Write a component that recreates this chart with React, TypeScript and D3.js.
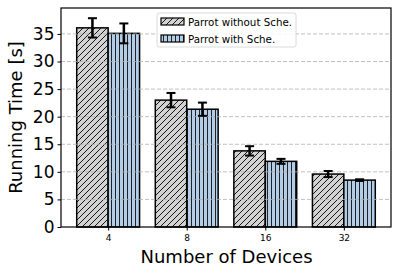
import { useEffect, useRef } from "react";
import * as d3 from "d3";

const categories = ["4", "8", "16", "32"];
const withoutSche = [36.1, 23.0, 13.8, 9.6];
const withoutErr = [1.75, 1.3, 0.85, 0.55];
const withSche = [35.1, 21.35, 11.9, 8.5];
const withErr = [1.8, 1.2, 0.45, 0.15];
const yTicks = [0, 5, 10, 15, 20, 25, 30, 35];
const seriesNames = ["Parrot without Sche.", "Parrot with Sche."];

const App = () => {
  const svgRef = useRef<SVGSVGElement>(null);

  useEffect(() => {
    const svg = d3.select(svgRef.current);
    svg.selectAll("*").remove();

    const width = 399;
    const height = 275;
    const margin = { top: 8, right: 8, bottom: 48, left: 61 };
    const w = width - margin.left - margin.right;
    const h = height - margin.top - margin.bottom;

    svg.attr("width", width).attr("height", height);

    const defs = svg.append("defs");
    const diag = defs
      .append("pattern")
      .attr("id", "hatch-diag")
      .attr("patternUnits", "userSpaceOnUse")
      .attr("width", 6)
      .attr("height", 6);
    diag.append("rect").attr("width", 6).attr("height", 6).attr("fill", "#d3d3d3");
    diag
      .append("path")
      .attr("d", "M0,6 L6,0 M-1.5,1.5 L1.5,-1.5 M4.5,7.5 L7.5,4.5")
      .attr("stroke", "#000")
      .attr("stroke-width", 0.9);

    const vert = defs
      .append("pattern")
      .attr("id", "hatch-vert")
      .attr("patternUnits", "userSpaceOnUse")
      .attr("width", 4)
      .attr("height", 4);
    vert.append("rect").attr("width", 4).attr("height", 4).attr("fill", "#b3cde8");
    vert.append("rect").attr("x", 2).attr("width", 1).attr("height", 4).attr("fill", "#222");

    const chart = svg.append("g").attr("transform", `translate(${margin.left},${margin.top})`);

    const x = d3.scaleLinear().domain([-0.6, 3.6]).range([0, w]);
    const y = d3.scaleLinear().domain([0, 39.7]).range([h, 0]);
    const bw = x(0.4) - x(0);

    const series = [
      { vals: withoutSche, errs: withoutErr, fill: "url(#hatch-diag)", off: -1 },
      { vals: withSche, errs: withErr, fill: "url(#hatch-vert)", off: 0 },
    ];

    series.forEach((s) => {
      chart
        .selectAll(null)
        .data(s.vals)
        .enter()
        .append("rect")
        .attr("x", (_, i) => x(i) + s.off * bw)
        .attr("y", (d) => y(d))
        .attr("width", bw)
        .attr("height", (d) => h - y(d))
        .attr("fill", s.fill)
        .attr("stroke", "#000")
        .attr("stroke-width", 1.5);
    });

    // grid on top of bars
    chart
      .selectAll(null)
      .data(yTicks.filter((t) => t > 0))
      .enter()
      .append("line")
      .attr("x1", 0)
      .attr("x2", w)
      .attr("y1", (d) => y(d))
      .attr("y2", (d) => y(d))
      .attr("stroke", "#b0b0b0")
      .attr("stroke-width", 0.8)
      .attr("stroke-dasharray", "4,2");

    // error bars
    series.forEach((s) => {
      s.vals.forEach((v, i) => {
        const cx = x(i) + s.off * bw + bw / 2;
        const e = s.errs[i];
        const g = chart.append("g").attr("stroke", "#000").attr("stroke-width", 2.5);
        g.append("line").attr("x1", cx).attr("x2", cx).attr("y1", y(v - e)).attr("y2", y(v + e));
        g.append("line").attr("x1", cx - 4.5).attr("x2", cx + 4.5).attr("y1", y(v - e)).attr("y2", y(v - e)).attr("stroke-width", 2);
        g.append("line").attr("x1", cx - 4.5).attr("x2", cx + 4.5).attr("y1", y(v + e)).attr("y2", y(v + e)).attr("stroke-width", 2);
      });
    });

    // frame
    chart
      .append("rect")
      .attr("width", w)
      .attr("height", h)
      .attr("fill", "none")
      .attr("stroke", "#000")
      .attr("stroke-width", 1.2);

    // y axis
    const yAxis = chart
      .append("g")
      .call(d3.axisLeft(y).tickValues(yTicks).tickSize(3.5).tickPadding(3).tickFormat(d3.format("d")));
    yAxis.select(".domain").remove();
    yAxis.selectAll("line").attr("stroke-width", 1);
    yAxis
      .selectAll("text")
      .style("font-family", "DejaVu Sans")
      .style("font-size", "17px")
      .attr("fill", "#000");

    // x axis
    const xAxis = chart
      .append("g")
      .attr("transform", `translate(0,${h})`)
      .call(
        d3
          .axisBottom(x)
          .tickValues(d3.range(categories.length))
          .tickSize(3.5)
          .tickPadding(4)
          .tickFormat((d) => categories[d as number])
      );
    xAxis.select(".domain").remove();
    xAxis.selectAll("line").attr("stroke-width", 1);
    xAxis
      .selectAll("text")
      .style("font-family", "DejaVu Sans")
      .style("font-size", "9px")
      .attr("fill", "#000");

    // axis labels
    svg
      .append("text")
      .attr("x", margin.left + w / 2 + 0.5)
      .attr("y", 263)
      .attr("text-anchor", "middle")
      .style("font-family", "DejaVu Sans")
      .style("font-size", "18px")
      .text("Number of Devices");

    svg
      .append("text")
      .attr("transform", `translate(22,${margin.top + h / 2}) rotate(-90)`)
      .attr("text-anchor", "middle")
      .style("font-family", "DejaVu Sans")
      .style("font-size", "18px")
      .text("Running Time [s]");

    // legend
    const lg = svg.append("g").attr("transform", "translate(157,13)");
    lg.append("rect")
      .attr("width", 139)
      .attr("height", 34)
      .attr("rx", 2)
      .attr("fill", "#fff")
      .attr("fill-opacity", 0.85)
      .attr("stroke", "#d0d0d0")
      .attr("stroke-width", 0.8);
    seriesNames.forEach((name, i) => {
      const row = lg.append("g").attr("transform", `translate(4,${5 + i * 17})`);
      row
        .append("rect")
        .attr("width", 23)
        .attr("height", 7)
        .attr("fill", i === 0 ? "url(#hatch-diag)" : "url(#hatch-vert)")
        .attr("stroke", "#000")
        .attr("stroke-width", 1.2);
      row
        .append("text")
        .attr("x", 27)
        .attr("y", 7.5)
        .style("font-family", "DejaVu Sans")
        .style("font-size", "10.3px")
        .text(name);
    });
  }, []);

  return <svg ref={svgRef} style={{ display: "block", position: "absolute", left: 0, top: 0 }} />;
};

export default App;
